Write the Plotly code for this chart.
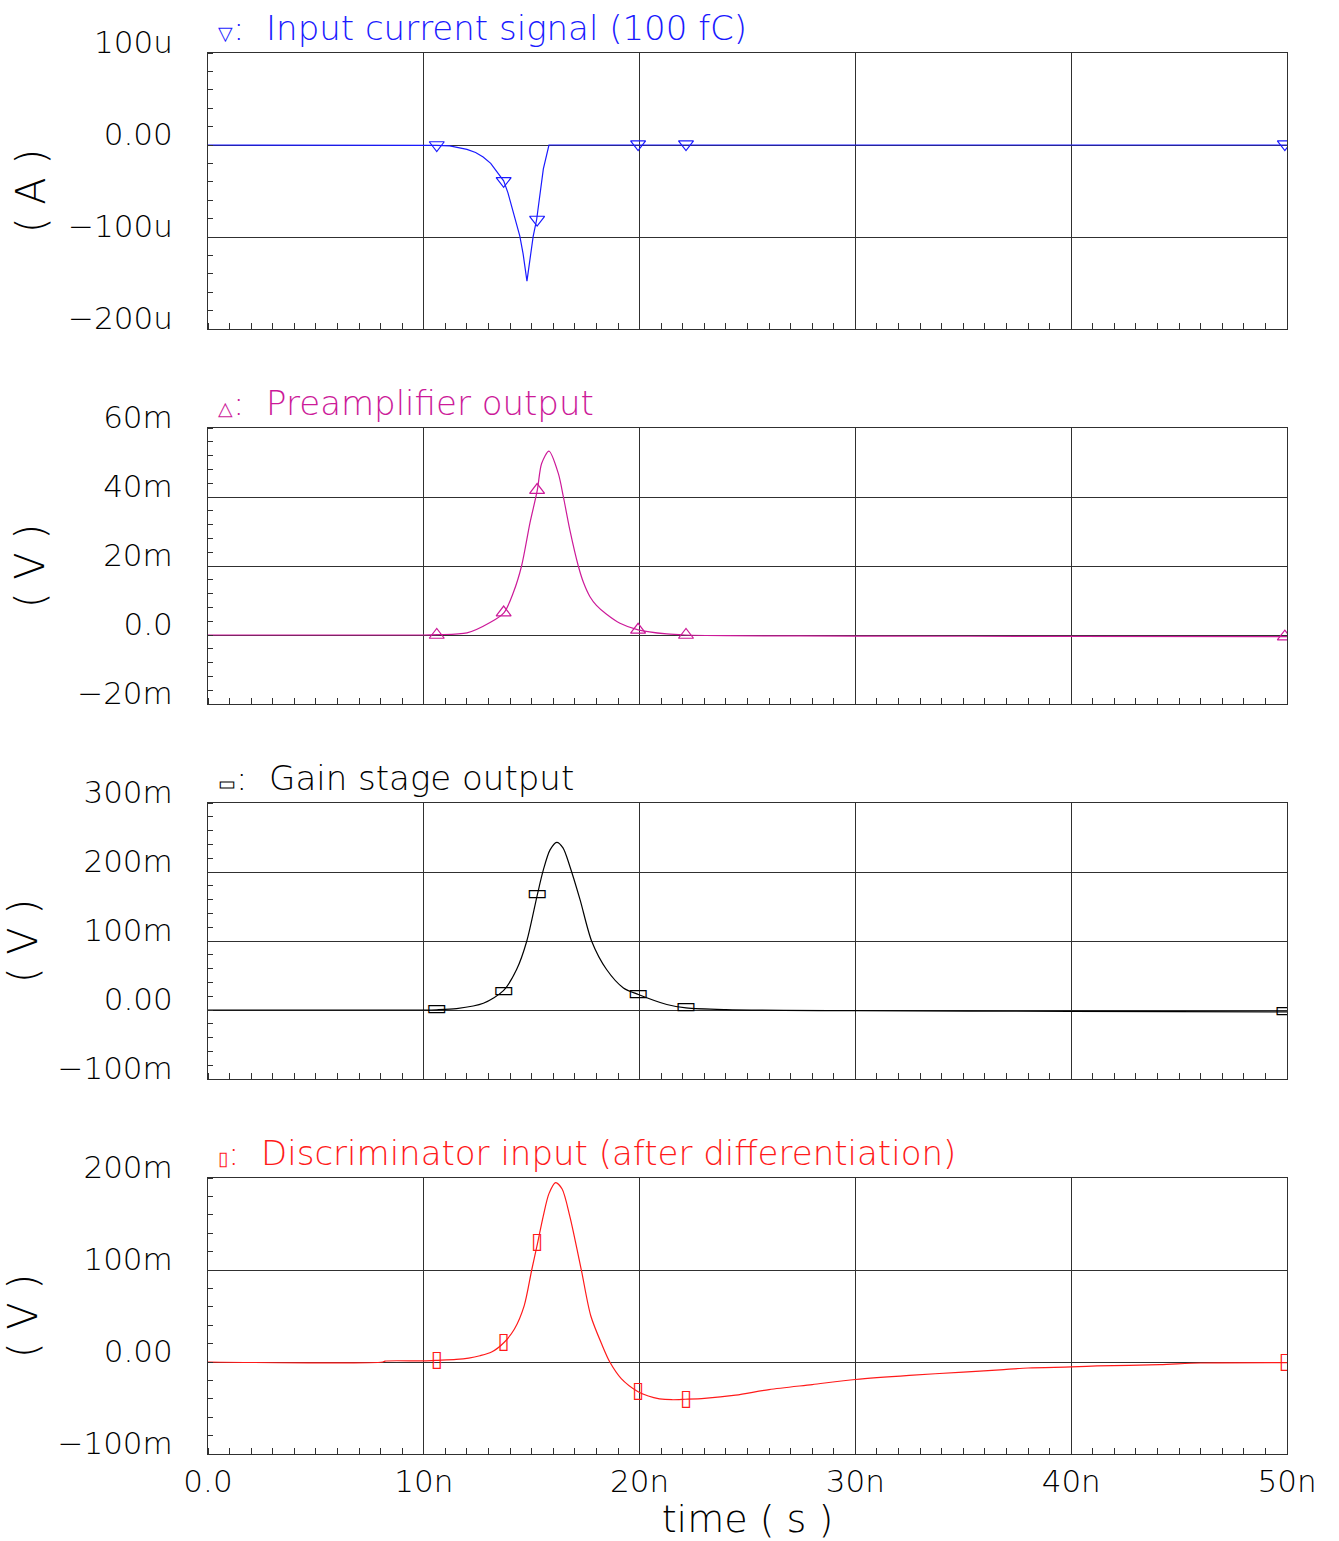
import plotly.graph_objects as go

# ---------------- data (time in ns) ----------------
# Panel 1: input current (uA)
t_in = [0, 10.3, 10.6, 11.2, 11.6, 12.0, 12.4, 12.75, 13.1, 13.5, 13.7, 13.9, 14.1, 14.3, 14.45, 14.6, 14.78,
        15.07, 15.23, 15.54, 15.8, 20, 50]
i_in = [0, 0, -0.3, -1.0, -2.5, -4.7, -8.2, -13, -20, -32, -39, -52, -70, -86, -99, -118, -148,
        -99, -81, -26, 0, 0, 0]

# Panel 2: preamplifier output (mV)
t_pre = [0, 10.0, 10.63, 12.0, 13.07, 13.72, 14.15, 14.53, 14.92, 15.26, 15.46, 15.8, 16.23, 16.47,
         16.77, 17.16, 17.4, 17.7, 18.0, 18.47, 19.09, 19.93, 21.26, 22.1, 24, 30, 40, 50]
v_pre = [0, 0, 0.1, 0.6, 3.6, 6.5, 12.3, 20, 32.5, 42, 49.7, 53.3, 46.9, 40,
         30.4, 20, 15.2, 11.1, 8.6, 6.0, 3.4, 1.5, 0.3, 0, -0.2, -0.3, -0.4, -0.5]

# Panel 3: gain stage output (mV)
t_gain = [0, 10.0, 10.6, 11.52, 12.76, 13.69, 14.3, 14.77, 15.26, 15.54, 15.85, 16.16, 16.45, 16.77,
          17.24, 17.78, 18.47, 19.25, 19.94, 21.26, 22.15, 24, 30, 40, 50]
v_gain = [0, 0, 0.3, 2, 9.7, 28, 58.7, 99.7, 167, 203, 232, 243, 235, 208,
          160, 99.7, 58.7, 32, 22.5, 8, 3, 0.5, -1, -2, -2.8]

# Panel 4: discriminator input (mV)
t_disc = [0, 8.1, 8.2, 10.0, 10.65, 11.5, 12.08, 12.6, 13.14, 13.73, 14.2, 14.65, 15.0, 15.28, 15.53,
          15.8, 16.11, 16.41, 16.77, 17.3, 17.74, 18.27, 18.62, 19.15, 19.91, 20.4, 20.92, 21.5,
          22.12, 23.0, 24.45, 26.0, 28.0, 30.0, 32.5, 35.0, 36.7, 38.0, 40.0, 41.2, 44.1, 46.0, 50.0]
v_disc = [0, 0, 1.0, 1.2, 1.8, 2.8, 4.3, 6.8, 10.8, 21.5, 35.8, 61, 100, 130, 158,
          183, 195, 188, 158, 100, 50, 18, 0, -18, -32, -37, -40, -41,
          -40.5, -39.5, -36, -30, -24.5, -19, -14.5, -11, -8.5, -6.5, -5.4, -4.3, -2.9, -1.1, -0.7]

# marker positions
mk_t = [10.6, 13.7, 15.25, 19.93, 22.15, 49.9]
mk_in = [0, -39, -81, 1, 1, 1]
mk_pre = [0, 6.5, 42, 1.5, 0, -0.5]
mk_gain = [0.3, 27.5, 167, 22.5, 3, -2.8]
mk_disc = [1.5, 21.5, 130, -32, -40.5, -0.5]

# axes
x_ticks = [0, 10, 20, 30, 40, 50]
x_labels = ["0.0", "10n", "20n", "30n", "40n", "50n"]
y_ticks = [[-200, -100, 0, 100], [-20, 0, 20, 40, 60], [-100, 0, 100, 200, 300], [-100, 0, 100, 200]]
y_labels = [["\u2212200u", "\u2212100u", "0.00", "100u"],
            ["\u221220m", "0.0", "20m", "40m", "60m"],
            ["\u2212100m", "0.00", "100m", "200m", "300m"],
            ["\u2212100m", "0.00", "100m", "200m"]]
y_minor = [20, 4, 20, 20]
y_units = ["( A )", "( V )", "( V )", "( V )"]
titles = ["Input current signal (100 fC)", "Preamplifier output", "Gain stage output",
          "Discriminator input (after differentiation)"]
symbols = ["\u25bd", "\u25b3", "\u25ad", "\u25af"]
colors = ["#1a1aff", "#cc1a99", "#000000", "#ff1a1a"]

series_t = [t_in, t_pre, t_gain, t_disc]
series_v = [i_in, v_pre, v_gain, v_disc]
markers_v = [mk_in, mk_pre, mk_gain, mk_disc]

W, H = 1339, 1541
X0, X1 = 208, 1287
PANELS = [(53, 329), (428, 704), (803, 1079), (1178, 1454)]
FONT = "DejaVu Sans"
WEIGHT = 200
GRID = "#303030"
unit_standoff = [10, 20, 10, 10]

fig = go.Figure()
layout = dict(width=W, height=H, margin=dict(l=0, r=0, t=0, b=0, autoexpand=False),
              paper_bgcolor="white", plot_bgcolor="white", showlegend=False,
              font=dict(family=FONT, size=31, color="black", weight=WEIGHT))
annotations = []

for i in range(4):
    n = i + 1
    xa = "x" if n == 1 else f"x{n}"
    ya = "y" if n == 1 else f"y{n}"
    fig.add_trace(go.Scatter(x=series_t[i], y=series_v[i], mode="lines",
                             line=dict(color=colors[i], width=1.2,
                                       shape="linear" if i == 0 else "spline",
                                       smoothing=0.8),
                             xaxis=xa, yaxis=ya, hoverinfo="skip"))
    if i < 2:
        fig.add_trace(go.Scatter(x=mk_t, y=markers_v[i], mode="markers", xaxis=xa, yaxis=ya,
                                 marker=dict(symbol="triangle-down-open" if i == 0 else "triangle-up-open",
                                             size=13, color=colors[i], line=dict(width=1.2, color=colors[i]))))
    else:
        fig.add_trace(go.Scatter(x=mk_t, y=markers_v[i], mode="text", xaxis=xa, yaxis=ya,
                                 text=[symbols[i]] * len(mk_t), textposition="middle center",
                                 textfont=dict(family="DejaVu Sans", size=22, color=colors[i], weight=400)))
    top, bot = PANELS[i]
    layout[f"xaxis{n if n > 1 else ''}"] = dict(
        domain=[X0 / W, X1 / W], anchor=ya, range=[0, 50], automargin=False,
        tickmode="array", tickvals=x_ticks, ticktext=x_labels,
        showticklabels=(n == 4), ticks="", showgrid=True, gridcolor=GRID, gridwidth=1,
        showline=True, linecolor=GRID, linewidth=1, mirror=True, zeroline=False,
        ticklabelstandoff=0,
        minor=dict(tickmode="linear", tick0=0, dtick=1, ticks="inside", ticklen=6,
                   tickcolor=GRID, showgrid=False),
        matches="x" if n > 1 else None,
        title=dict(text="time ( s )", standoff=8, font=dict(size=38)) if n == 4 else None,
    )
    yr = [y_ticks[i][0], y_ticks[i][-1]]
    layout[f"yaxis{n if n > 1 else ''}"] = dict(
        domain=[1 - bot / H, 1 - top / H], anchor=xa, range=yr, automargin=False,
        tickmode="array", tickvals=y_ticks[i], ticktext=y_labels[i],
        ticks="", showgrid=True, gridcolor=GRID, gridwidth=1,
        showline=True, linecolor=GRID, linewidth=1, mirror=True, zeroline=False,
        ticklabelstandoff=28, ticklabelshift=-11,
        minor=dict(tickmode="linear", tick0=yr[0], dtick=y_minor[i], ticks="inside", ticklen=5,
                   tickcolor=GRID, showgrid=False),
        title=dict(text=y_units[i], standoff=unit_standoff[i], font=dict(size=40)),
    )
    annotations.append(dict(
        xref="paper", yref=f"{ya} domain", x=X0 / W + 8 / W, y=1, xanchor="left", yanchor="bottom",
        yshift=3, showarrow=False,
        text=f"<span style='font-size:19px'>{symbols[i]}</span>:  {titles[i]}",
        font=dict(family=FONT, size=34, color=colors[i], weight=WEIGHT)))

layout["annotations"] = annotations
fig.update_layout(**layout)
fig.write_html("out.html")
